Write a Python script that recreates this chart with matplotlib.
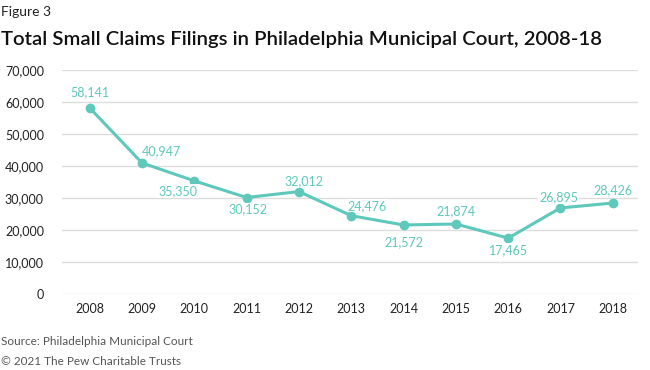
import matplotlib.pyplot as plt

plt.rcParams['font.family'] = ['Lato', 'DejaVu Sans']

years = [2008, 2009, 2010, 2011, 2012, 2013, 2014, 2015, 2016, 2017, 2018]
filings = [58141, 40947, 35350, 30152, 32012, 24476, 21572, 21874, 17465, 26895, 28426]
yticks = [0, 10000, 20000, 30000, 40000, 50000, 60000, 70000]

# where each value label sits relative to its point (pixels, +y is up)
label_offsets = [(0, 16), (19, 12), (-16, -10), (1, -12), (5, 10), (16, 10),
                 (0, -17), (0, 13), (0, -12), (-2, 11), (0, 13)]

teal = '#5ec8bb'

fig = plt.figure(figsize=(6.5, 3.7), dpi=100)
ax = fig.add_axes([0.0954, 0.2054, 0.886, 0.6054])

ax.plot(years, filings, color=teal, lw=2.2, marker='o', ms=6, zorder=3)

for x, y, off in zip(years, filings, label_offsets):
    ax.annotate(f'{y:,}', (x, y), xytext=off, textcoords='offset pixels',
                ha='center', va='center', fontsize=9, color=teal, zorder=4,
                bbox=dict(facecolor='white', edgecolor='none', pad=0.5))

ax.set_xlim(2007.47, 2018.48)
ax.set_ylim(0, 70000)
ax.set_xticks(years)
ax.set_yticks(yticks)
ax.set_yticklabels([f'{v:,}' for v in yticks])
ax.grid(axis='y', color='#dddddd', lw=1)
ax.set_axisbelow(True)
for s in ax.spines.values():
    s.set_visible(False)
ax.tick_params(axis='both', length=0, labelsize=9, colors='#222222')
ax.tick_params(axis='x', pad=6.5)
ax.tick_params(axis='y', pad=13)

fig.text(0.002, 0.985, 'Figure 3', fontsize=10, color='#222222', va='top')
fig.text(0.002, 0.915, 'Total Small Claims Filings in Philadelphia Municipal Court, 2008-18',
         fontsize=14.7, fontweight='semibold', color='#111111', va='top')
fig.text(0.002, 0.078, 'Source: Philadelphia Municipal Court', fontsize=8.5,
         color='#555555', va='center')
fig.text(0.002, 0.022, '\u00a9 2021 The Pew Charitable Trusts', fontsize=8.5,
         color='#555555', va='center')

fig.savefig('out.png', dpi=100)
